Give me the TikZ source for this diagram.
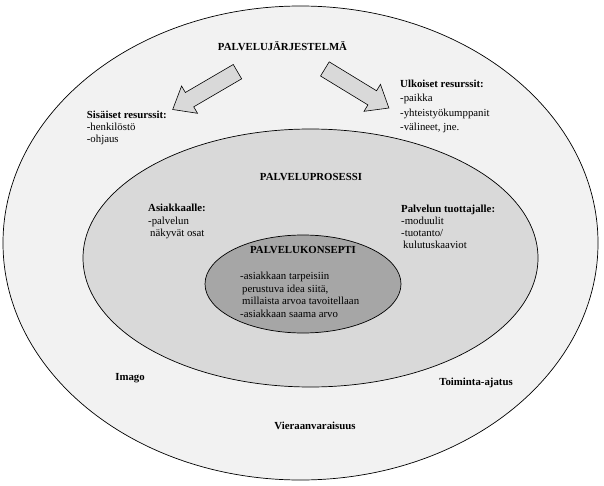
\documentclass[tikz,border=0pt]{standalone}
\usepackage{fontspec}
\setmainfont{Liberation Serif}
\usetikzlibrary{shapes.arrows}

\definecolor{outergray}{HTML}{F2F2F2}
\definecolor{midgray}{HTML}{D9D9D9}
\definecolor{innergray}{HTML}{A6A6A6}

\tikzset{
    ring/.style = {draw=black, line width=0.7pt},
    title/.style = {inner sep=0, font=\fontsize{10.8}{12}\selectfont\bfseries},
    block/.style = {inner sep=0, anchor=north west, align=left},
    bigarrow/.style = {shape=single arrow, draw=black, line width=0.6pt, fill=midgray,
        inner xsep=0pt, inner ysep=8pt, minimum height=75pt, minimum width=31pt,
        single arrow head extend=7.5pt, single arrow tip angle=78},
}

\begin{document}
\begin{tikzpicture}[x=1pt, y=-1pt]
    \useasboundingbox (0,0) rectangle (604,486);

    % the three rings
    \filldraw[ring, fill=outergray] (300.5,243) ellipse [x radius=297.5, y radius=237];
    \filldraw[ring, fill=midgray] (310.5,258) ellipse [x radius=227.5, y radius=129];
    \filldraw[ring, fill=innergray] (303,284) ellipse [x radius=98, y radius=49];

    % outer ring
    \node[title] (jarj) at (282.5,46) {PALVELUJÄRJESTELMÄ};
    \node[bigarrow, rotate=210.3] (arrL) at (209.5,88) {};
    \node[bigarrow, rotate=-31.4] (arrR) at (352.5,85.8) {};
    \node[block, font=\fontsize{10.8}{12}\selectfont] (sis) at (86.7,111)
        {\textbf{Sisäiset resurssit:}\\-henkilöstö\\-ohjaus};
    \node[block, font=\fontsize{10.8}{14.3}\selectfont] (ulk) at (400,80)
        {\textbf{Ulkoiset resurssit:}\\-paikka\\-yhteistyökumppanit\\-välineet, jne.};
    \node[title] (imago) at (130,378) {Imago};
    \node[title] (toim) at (476,383) {Toiminta-ajatus};
    \node[title] (vier) at (315,426) {Vieraanvaraisuus};

    % middle ring
    \node[title] (pros) at (311,177) {PALVELUPROSESSI};
    \node[block, font=\fontsize{10.8}{12.5}\selectfont] (asiak) at (148,204)
        {\textbf{Asiakkaalle:}\\-palvelun\\\hspace{2pt}näkyvät osat};
    \node[block, font=\fontsize{10.8}{12}\selectfont] (tuot) at (401,205)
        {\textbf{Palvelun tuottajalle:}\\-moduulit\\-tuotanto/\\\hspace{2pt}kulutuskaaviot};

    % inner ring
    \node[title] (kons) at (303,250) {PALVELUKONSEPTI};
    \node[block, font=\fontsize{10.8}{12.6}\selectfont] (konsteksti) at (240,272)
        {-asiakkaan tarpeisiin\\\hspace{2pt}perustuva idea siitä,\\\hspace{2pt}millaista arvoa tavoitellaan\\-asiakkaan saama arvo};

\end{tikzpicture}
\end{document}
